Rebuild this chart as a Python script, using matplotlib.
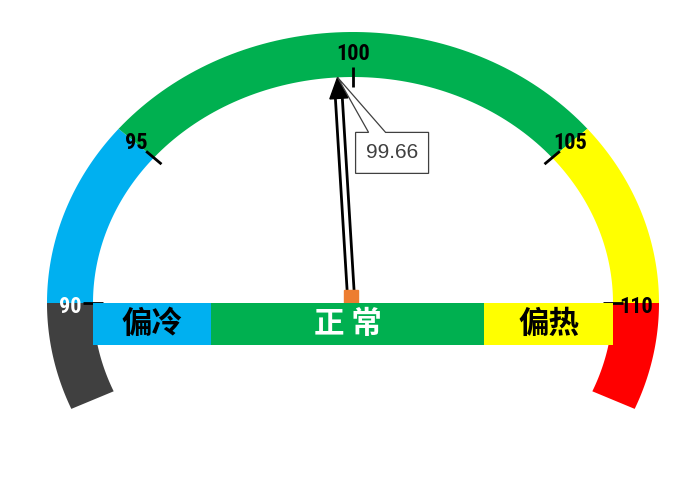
import numpy as np
import matplotlib
matplotlib.use("Agg")
import matplotlib.pyplot as plt
from matplotlib.patches import Polygon
from matplotlib import font_manager

# ---------------- data ----------------
arc_spans = [23, 40, 100, 40, 23]          # doughnut segment sizes (degrees), visible part
arc_colors = ['#404040', '#00B0F0', '#00B050', '#FFFF00', '#FF0000']
tick_values = [90, 95, 100, 105, 110]
tick_label_colors = ['white', 'black', 'black', 'black', 'black']
bar_labels = ['偏冷', '正 常', '偏热']
bar_values = [4.55, 10.5, 4.95]            # widths on the 90..110 scale
bar_colors = ['#00B0F0', '#00B050', '#FFFF00']
bar_text_colors = ['black', 'white', 'black']
pointer_value = 99.66

# ---------------- layout ----------------
W, H = 700, 483
cx, cy = 353, 303
rx_out, ry_out = 306, 271
rx_in, ry_in = 260, 226
rx_mid, ry_mid = (rx_out + rx_in) / 2, (ry_out + ry_in) / 2

fig = plt.figure(figsize=(W / 100, H / 100), dpi=100)
fig.patch.set_facecolor('white')
ax = fig.add_axes([0, 0, 1, 1])
ax.set_xlim(0, W)
ax.set_ylim(H, 0)
ax.axis('off')

def pt(theta_deg, rx, ry):
    t = np.radians(theta_deg)
    return cx + rx * np.cos(t), cy - ry * np.sin(t)

start = 180 + arc_spans[0]
bounds = start - np.concatenate([[0], np.cumsum(arc_spans)])
for i, col in enumerate(arc_colors):
    th = np.linspace(bounds[i], bounds[i + 1], 80)
    xo, yo = pt(th, rx_out, ry_out)
    xi, yi = pt(th[::-1], rx_in, ry_in)
    poly = Polygon(np.column_stack([np.r_[xo, xi], np.r_[yo, yi]]),
                   closed=True, facecolor=col, edgecolor='none', zorder=1)
    ax.add_patch(poly)

known_vals = [tick_values[0], tick_values[1], tick_values[3], tick_values[4]]
known_angs = bounds[1:5]                   # 180, 140, 40, 0
def val2ang(v):
    return np.interp(v, known_vals, known_angs)

# pick a condensed font for the numbers
avail = {f.name for f in font_manager.fontManager.ttflist}
narrow = [n for n in ['Liberation Sans Narrow', 'Roboto Condensed', 'Open Sans Condensed',
                      'DejaVu Sans Condensed', 'Noto Sans Condensed'] if n in avail]
num_font = narrow + ['DejaVu Sans']
cond_stretch = {f.name for f in font_manager.fontManager.ttflist
                if f.stretch in ('condensed', 'semi-condensed', 'extra-condensed', 'ultra-condensed')}
stretch = 'condensed' if (not narrow and cond_stretch) else 'normal'
if not narrow and cond_stretch:
    num_font = [sorted(cond_stretch)[0], 'DejaVu Sans']

for v, c in zip(tick_values, tick_label_colors):
    a = val2ang(v)
    x1, y1 = pt(a, rx_in - 10, ry_in - 10)
    x2, y2 = pt(a, rx_in + 10, ry_in + 10)
    ax.plot([x1, x2], [y1, y2], color='black', lw=2.0, solid_capstyle='butt', zorder=3)
    lx, ly = pt(a, rx_mid, ry_mid)
    if abs(np.sin(np.radians(a))) < 0.1:
        ly += 4
    ax.text(lx, ly, str(v), ha='center', va='center', fontsize=16,
            fontweight='bold', family=num_font, fontstretch=stretch, color=c, zorder=4)

# ---------------- horizontal band ----------------
axb = fig.add_axes([(cx - rx_in) / W, (H - 345) / H, (2 * rx_in) / W, 42 / H])
axb.set_xlim(tick_values[0], tick_values[-1])
axb.set_ylim(-0.5, 0.5)
axb.axis('off')
axb.patch.set_alpha(0)
lefts = tick_values[0] + np.concatenate([[0], np.cumsum(bar_values)[:-1]])
axb.barh(0, bar_values, left=lefts, height=1, color=bar_colors, edgecolor='none')
cjk = ['Noto Sans CJK SC', 'DejaVu Sans']
for l, w, lab, tc in zip(lefts, bar_values, bar_labels, bar_text_colors):
    axb.text(l + w / 2, 0, lab, ha='center', va='center', fontsize=22,
             fontweight='bold', family=cjk, color=tc)

# ---------------- needle ----------------
ang = val2ang(pointer_value)
tx, ty = pt(ang, rx_in, ry_in)
bx, by = cx - 2, cy - 6
d = np.array([tx - bx, ty - by])
u = d / np.hypot(*d)
nrm = np.array([-u[1], u[0]])
head_len, head_w = 21, 9
hb = np.array([tx, ty]) - u * head_len
ax.plot([bx, hb[0]], [by, hb[1]], color='black', lw=7.0, solid_capstyle='butt', zorder=5)
ax.plot([bx, hb[0]], [by, hb[1]], color='white', lw=3.0, solid_capstyle='butt', zorder=6)
head = Polygon([[tx, ty], hb + nrm * head_w, hb - nrm * head_w], closed=True,
               facecolor='black', edgecolor='black', zorder=7)
ax.add_patch(head)
ax.plot([bx], [by], marker='s', markersize=9.5, color='#ED7D31',
        markeredgecolor='#ED7D31', zorder=8)

# ---------------- callout ----------------
bl, bt = tx + 18, ty + 55
bw, bh = 73, 41
callout = Polygon([[bl, bt], [bl + 13, bt], [tx, ty], [bl + 30, bt], [bl + bw, bt],
                   [bl + bw, bt + bh], [bl, bt + bh]], closed=True,
                  facecolor='white', edgecolor='#404040', lw=0.9, zorder=9)
ax.add_patch(callout)
ax.text(bl + bw / 2, bt + bh / 2, f'{pointer_value:.2f}', ha='center', va='center',
        fontsize=15, color='#404040', family=['Liberation Sans', 'DejaVu Sans'], zorder=10)

fig.savefig('out.png', dpi=100, facecolor='white')
